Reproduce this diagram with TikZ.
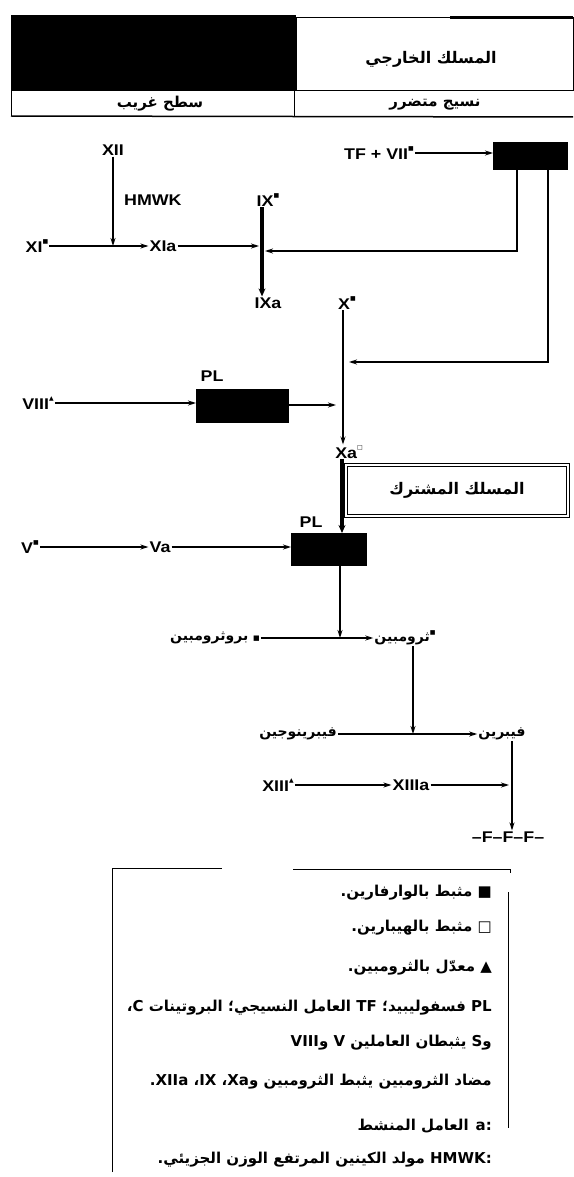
\documentclass[tikz,border=0pt]{standalone}
\usepackage{fontspec}
\setmainfont{Liberation Sans}
\newfontfamily\labf{Liberation Sans}[FakeStretch=1.15]
\newfontfamily\arf[Script=Arabic]{DejaVu Sans}
\newfontfamily\symf{DejaVu Sans}
\TeXXeTstate=1
\usetikzlibrary{arrows.meta}
\newcommand\mksq{\raisebox{.55em}{\symf\fontsize{6}{6}\selectfont ■}}
\newcommand\mkho{\raisebox{.55em}{\symf\fontsize{6}{6}\selectfont □}}
\newcommand\mktr{\raisebox{.55em}{\symf\fontsize{6}{6}\selectfont ▲}}
\newcommand\lrt[1]{\beginL #1\endL{}}
\tikzset{
  lab/.style={inner sep=1pt, font=\labf\bfseries\fontsize{15.5}{15.5}\selectfont},
  ar/.style={inner sep=1pt, font=\arf\bfseries\fontsize{14}{16}\selectfont},
  arbig/.style={inner sep=1pt, font=\arf\bfseries\fontsize{15}{16}\selectfont},
  leg/.style={inner sep=1pt, anchor=east, font=\arf\bfseries\fontsize{15}{17}\selectfont},
  blk/.style={fill=black, inner sep=0pt, outer sep=0pt},
  con/.style={line width=1.3pt, -{Stealth[length=8pt,width=5pt]}},
  thk/.style={line width=3.5pt, -{Stealth[length=8pt,width=7pt]}},
  frame/.style={line width=1pt},
}
\begin{document}
\begin{tikzpicture}[x=1pt,y=-1pt]
\fill[white] (0,0) rectangle (573,1177);
\useasboundingbox (0,0) rectangle (573,1177);
% header table
\fill (11,15) rectangle (296,91);
\draw[frame] (296,18) rectangle (573,91);
\draw[line width=3pt] (450,18) -- (573,18);
\draw[frame] (11,91) -- (11,116);
\draw[line width=1.5pt] (11,116) -- (573,117);
\draw[frame] (294,91) -- (294,117);
\node[arbig, font=\arf\bfseries\fontsize{16}{16}\selectfont] (ext) at (431,59) {\beginR المسلك الخارجي\endR};
\node[arbig] (sur) at (160,104) {\beginR سطح غريب\endR};
\node[arbig] (tis) at (435,105) {\beginR نسيج متضرر\endR};
% nodes
\node[lab] (XII) at (113,150) {XII};
\node[lab, anchor=west] (HMWK) at (123,200) {HMWK};
\node[lab] (XI) at (37,246) {XI\mksq};
\node[lab] (XIa) at (163,246) {XIa};
\node[lab] (IX) at (268,200) {IX\mksq};
\node[lab] (IXa) at (268,303) {IXa};
\node[lab] (TFVII) at (379,153) {TF + VII\mksq};
\node[blk, minimum width=75pt, minimum height=28pt] (tfb) at (530.5,156) {};
\node[lab] (X) at (347,303) {X\mksq};
\node[lab] (VIII) at (38,403) {VIII\mktr};
\node[lab] (PL1) at (212,376) {PL};
\node[blk, minimum width=93pt, minimum height=34pt] (plb1) at (242.5,406) {};
\node[lab] (Xa) at (349,452) {Xa\mkho};
\node[draw, line width=1pt, double, double distance=1.5pt, minimum width=222pt, minimum height=51pt, inner sep=0pt, arbig, font=\arf\bfseries\fontsize{16}{16}\selectfont] (common) at (457,490.5) {\beginR المسلك المشترك\endR};
\node[lab] (PL2) at (311,522) {PL};
\node[blk, minimum width=76pt, minimum height=33pt] (plb2) at (329,549.5) {};
\node[lab] (V) at (30,547) {V\mksq};
\node[lab] (Va) at (160,547) {Va};
\node[ar] (pro) at (215,638) {\beginR{\symf\fontsize{7}{7}\selectfont■} بروثرومبين\endR};
\node[ar] (thr) at (405,638) {\beginR\raisebox{.5em}{\symf\fontsize{6}{6}\selectfont■}ثرومبين\endR};
\node[ar] (fgn) at (298,734) {\beginR فيبرينوجين\endR};
\node[ar] (fib) at (502,734) {\beginR فيبرين\endR};
\node[lab] (XIII) at (278,785) {XIII\mktr};
\node[lab] (XIIIa) at (411,785) {XIIIa};
\node[lab] (FFF) at (508,837) {–F–F–F–};
% connectors
\coordinate (IXl) at (259,246);
\coordinate (IXr) at (265,251);
\coordinate (Xr) at (349,362);
\coordinate (Xl) at (336,405);
\coordinate (fibl) at (509,785);
\draw[con] (XII) -- (XII |- XI.east);
\draw[con] (XI.east) -- (XI.east -| XIa.west);
\draw[con] (XIa.east) -- (IXl);
\draw[thk] ([xshift=-6pt]IX.south) -- ([xshift=-6pt]IXa.north);
\draw[con] ([xshift=-13.5pt]tfb.south) |- (IXr);
\draw[con] (TFVII.east) -- (TFVII.east -| tfb.west);
\draw[con] ([xshift=17.5pt]tfb.south) |- (Xr);
\draw[con] ([xshift=-4pt]X.south) -- ([xshift=-6pt]Xa.north);
\draw[con] (VIII.east) -- (VIII.east -| plb1.west);
\draw[con] (plb1.east |- Xl) -- (Xl);
\draw[thk] ([xshift=-7pt]Xa.south) -- ([xshift=-7pt]Xa.south |- plb2.north);
\draw[con] (V.east) -- (V.east -| Va.west);
\draw[con] (Va.east) -- (Va.east -| plb2.west);
\draw[con] ([xshift=11pt]plb2.south) -- ([xshift=11pt]plb2.south |- pro.east);
\draw[con] (pro.east) -- (pro.east -| thr.west);
\draw[con] ([xshift=8pt]thr.south) -- ([xshift=8pt]thr.south |- fgn.east);
\draw[con] (fgn.east) -- (fgn.east -| fib.west);
\draw[con] ([xshift=10pt]fib.south) -- ([xshift=10pt]fib.south |- FFF.north);
\draw[con] (XIII.east) -- (XIII.east -| XIIIa.west);
\draw[con] (XIIIa.east) -- (fibl);
% legend
\draw[frame] (112,1172) -- (112,868) -- (222,868);
\draw[frame] (293,869) -- (510,869) -- (510,873);
\draw[frame] (508,892) -- (508,1128);
\node[leg] (L1) at (493,893) {\beginR{\symf■} مثبط بالوارفارين.\endR};
\node[leg] (L2) at (493,928) {\beginR{\symf□} مثبط بالهيبارين.\endR};
\node[leg] (L3) at (493,968) {\beginR{\symf▲} معدّل بالثرومبين.\endR};
\node[leg] (L4) at (493,1008) {\beginR\lrt{PL} فسفوليبيد؛ \lrt{TF} العامل النسيجي؛ البروتينات \lrt{C}،\endR};
\node[leg] (L5) at (493,1043) {\beginR و\lrt{S} يثبطان العاملين \lrt{V} و\lrt{VIII}\endR};
\node[leg] (L6) at (493,1082) {\beginR مضاد الثرومبين يثبط الثرومبين و\lrt{Xa}، \lrt{IX}، \lrt{XIIa}.\endR};
\node[leg] (L7) at (493,1126) {\beginR\lrt{a:} العامل المنشط\endR};
\node[leg] (L8) at (493,1160) {\beginR\lrt{HMWK:} مولد الكينين المرتفع الوزن الجزيئي.\endR};
\end{tikzpicture}
\end{document}
